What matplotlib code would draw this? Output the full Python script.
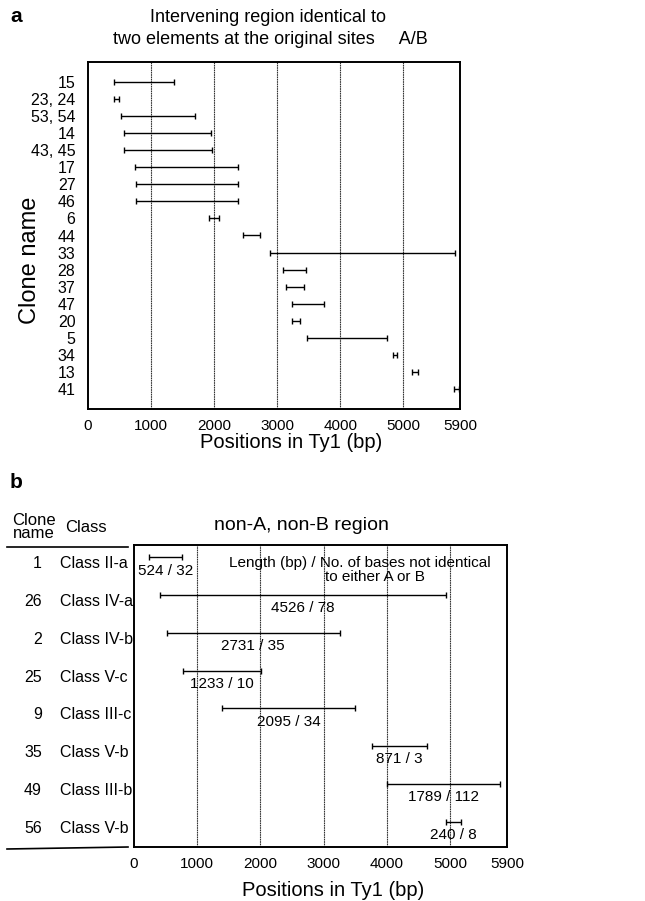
import matplotlib
matplotlib.use("Agg")
import matplotlib.pyplot as plt

plt.rcParams['font.family'] = ['Liberation Sans', 'DejaVu Sans']

# panel a: regions identical to A/B
clones_a = ['15', '23, 24', '53, 54', '14', '43, 45', '17', '27', '46', '6', '44',
            '33', '28', '37', '47', '20', '5', '34', '13', '41']
start_a = [415, 415, 520, 570, 570, 750, 755, 755, 1915, 2455,
           2890, 3100, 3140, 3235, 3235, 3470, 4840, 5145, 5810]
end_a = [1365, 485, 1700, 1955, 1960, 2385, 2385, 2385, 2075, 2735,
         5825, 3450, 3425, 3740, 3360, 4740, 4905, 5235, 5890]

# panel b: non-A, non-B regions
clones_b = ['1', '26', '2', '25', '9', '35', '49', '56']
classes_b = ['Class II-a', 'Class IV-a', 'Class IV-b', 'Class V-c',
             'Class III-c', 'Class V-b', 'Class III-b', 'Class V-b']
start_b = [240, 410, 520, 770, 1395, 3760, 4000, 4930]
length_b = [524, 4526, 2731, 1233, 2095, 871, 1789, 240]
mism_b = [32, 78, 35, 10, 34, 3, 112, 8]

xticks = [0, 1000, 2000, 3000, 4000, 5000, 5900]

W, H = 645, 901
fig = plt.figure(figsize=(W / 100, H / 100), dpi=100)


def box(l, t, r, b):
    return [l / W, 1 - b / H, (r - l) / W, (b - t) / H]


def style(ax):
    ax.set_xlim(0, 5900)
    ax.set_xticks(xticks)
    ax.set_xticklabels([str(v) for v in xticks], fontsize=11)
    ax.tick_params(length=0, pad=7)
    for x in xticks[1:-1]:
        ax.axvline(x, color='0.2', lw=0.8, ls=(0, (1.5, 0.6)), zorder=0)
    for s in ax.spines.values():
        s.set_linewidth(1.4)


# ---- panel a
ax1 = fig.add_axes(box(88, 62, 460, 409))
style(ax1)
rows = list(range(len(clones_a)))
mid = [(s + e) / 2 for s, e in zip(start_a, end_a)]
half = [(e - s) / 2 for s, e in zip(start_a, end_a)]
ax1.errorbar(mid, rows, xerr=half, fmt='none', ecolor='black', elinewidth=1,
             capsize=2.5, capthick=1)
ax1.set_ylim(len(rows) - 1 + 1.17, -1.17)
ax1.set_yticks(rows)
ax1.set_yticklabels(clones_a, fontsize=11.5)
ax1.tick_params(axis='y', pad=9)

fig.text(10 / W, 1 - 16 / H, 'a', fontsize=15, fontweight='bold', va='center')
fig.text(268 / W, 1 - 18 / H, 'Intervening region identical to',
         fontsize=13, ha='center', va='center')
fig.text(270 / W, 1 - 40 / H, 'two elements at the original sites     A/B',
         fontsize=13, ha='center', va='center')
fig.text(30 / W, 1 - 260 / H, 'Clone name', fontsize=17, rotation=90,
         ha='center', va='center')
fig.text(291 / W, 1 - 443 / H, 'Positions in Ty1 (bp)', fontsize=14.5,
         ha='center', va='center')

# ---- panel b
ax2 = fig.add_axes(box(134, 545, 507, 847))
style(ax2)
rows_b = list(range(len(clones_b)))
end_b = [s + n for s, n in zip(start_b, length_b)]
mid_b = [(s + e) / 2 for s, e in zip(start_b, end_b)]
half_b = [n / 2 for n in length_b]
ybar = [r - 0.17 for r in rows_b]
ax2.errorbar(mid_b, ybar, xerr=half_b, fmt='none', ecolor='black',
             elinewidth=1, capsize=2, capthick=1)
for r, m, n, k in zip(rows_b, mid_b, length_b, mism_b):
    ax2.text(m, r + 0.18, f'{n} / {k}', fontsize=11, ha='center', va='center')
ax2.set_ylim(len(rows_b) - 0.5, -0.5)
ax2.set_yticks([])
ax2.text(0.605, 0.94, 'Length (bp) / No. of bases not identical', fontsize=11,
         ha='center', va='center', transform=ax2.transAxes)
ax2.text(0.645, 0.895, 'to either A or B', fontsize=11,
         ha='center', va='center', transform=ax2.transAxes)

for r, c, k in zip(rows_b, clones_b, classes_b):
    y = ax2.transData.transform((0, r))[1] / H
    fig.text(42 / W, y, c, fontsize=11.5, ha='right', va='center')
    fig.text(60 / W, y, k, fontsize=11.5, ha='left', va='center')

fig.text(10 / W, 1 - 483 / H, 'b', fontsize=15, fontweight='bold', va='center')
fig.text(34 / W, 1 - 527 / H, 'Clone\nname', fontsize=12, ha='center',
         va='center', linespacing=0.85)
fig.text(86 / W, 1 - 527 / H, 'Class', fontsize=12, ha='center', va='center')
fig.text(301 / W, 1 - 525 / H, 'non-A, non-B region', fontsize=14,
         ha='center', va='center')
fig.lines.append(plt.Line2D([7 / W, 128 / W], [1 - 547 / H, 1 - 547 / H],
                            transform=fig.transFigure, color='black', lw=1.2))
fig.lines.append(plt.Line2D([7 / W, 128 / W], [1 - 849 / H, 1 - 847 / H],
                            transform=fig.transFigure, color='black', lw=1.2))
fig.text(333 / W, 1 - 890 / H, 'Positions in Ty1 (bp)', fontsize=14.5,
         ha='center', va='center')

fig.savefig('out.png', dpi=100)
